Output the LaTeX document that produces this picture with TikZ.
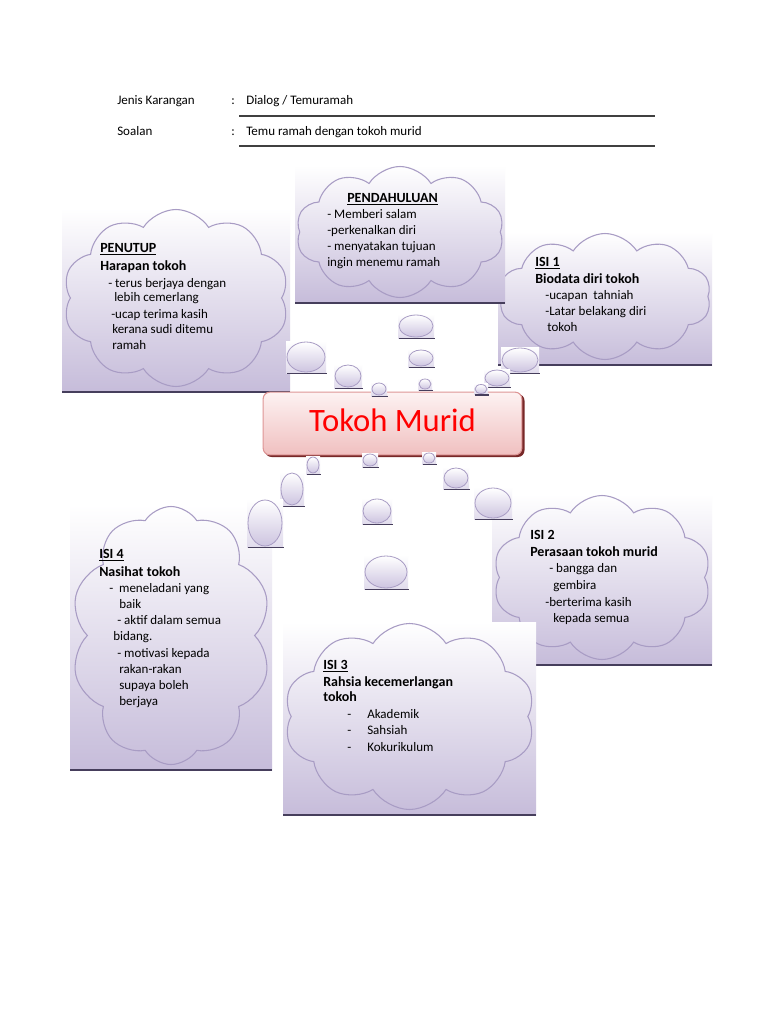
\documentclass[tikz,border=0pt]{standalone}
\usepackage{fontspec}
\setmainfont{Carlito}
\usetikzlibrary{shapes.geometric,shapes.symbols}
\definecolor{lav}{RGB}{198,188,218}
\definecolor{lavline}{RGB}{168,156,196}
\definecolor{shline}{RGB}{70,62,92}
\definecolor{bublav}{RGB}{205,196,224}
\definecolor{pinktop}{RGB}{253,242,242}
\definecolor{pinkbot}{RGB}{240,192,192}
\definecolor{pinkline}{RGB}{222,150,150}
\definecolor{darkred}{RGB}{120,40,40}
\tikzset{
 cloudo/.style={cloud, cloud puffs=10, cloud puff arc=115, cloud ignores aspect, draw=lavline, line width=0.8pt, inner sep=0pt},
 bub/.style={ellipse, draw=lavline, line width=0.6pt, top color=white, bottom color=bublav, inner sep=0pt},
 txt/.style={anchor=base west, inner sep=0pt, font=\fontsize{9.75}{12}\selectfont},
 hd/.style={anchor=base west, inner sep=0pt, font=\fontsize{10.5}{12}\selectfont\bfseries},
 shl/.style={draw=shline, line width=1.2pt},
 rulel/.style={draw=black!75, line width=1pt},
}
\newcommand\cbox[5]{%
 \shade[top color=white, bottom color=lav] (#2,#3) rectangle (#4,#5);
 \draw[shl] (#2,#5) -- (#4,#5);
 \node[cloudo, minimum width={(#4-#2-2)*0.75pt}, minimum height={(#5-#3-7)*0.75pt}] (#1) at ({(#2+#4)/2},{(#3+#5)/2-2}) {};
}
\newcommand\tbub[5]{%
 \shade[top color=white, bottom color=bublav!60] ({#2-#4-1},{#3-#5-1}) rectangle ({#2+#4+1},{#3+#5+1});
 \draw[shl, line width=1pt] ({#2-#4},{#3+#5+1.5}) -- ({#2+#4+1.5},{#3+#5+1.5});
 \node[bub, minimum width={#4*1.5pt}, minimum height={#5*1.5pt}] (#1) at (#2,#3) {};
}
\begin{document}
\begin{tikzpicture}[x=0.75pt,y=-0.75pt]
\useasboundingbox (0,0) rectangle (768,1024);
\fill[white] (0,0) rectangle (768,1024);
% header
\node[txt] (hj) at (117,104) {Jenis Karangan};
\node[txt] (hc1) at (231,104) {:};
\node[txt] (hv1) at (246,104) {Dialog / Temuramah};
\node[txt] (hs) at (117,135) {Soalan};
\node[txt] (hc2) at (231,135) {:};
\node[txt] (hv2) at (246,135) {Temu ramah dengan tokoh murid};
\coordinate (r1a) at (239,116); \coordinate (r1b) at (655,116);
\coordinate (r2a) at (239,146); \coordinate (r2b) at (655,146);
\draw[rulel] (r1a) -- (r1b);
\draw[rulel] (r2a) -- (r2b);
% cloud boxes
\cbox{isi1}{498}{232}{712}{365}
\cbox{pend}{295}{165}{505}{303}
\cbox{penutup}{62}{208}{290}{392}
\cbox{isi2}{492}{494}{712}{665}
\cbox{isi3}{283}{622}{536}{815}
\cbox{isi4}{70}{505}{272}{770}
% central box
\fill[darkred, rounded corners=5pt] (265,394) rectangle (524.5,457);
\node[rounded corners=5pt, draw=pinkline, line width=0.8pt, top color=pinktop, bottom color=pinkbot, minimum width=194pt, minimum height=47pt, inner sep=0pt] (tm) at (392.5,423.5) {};
\node[inner sep=0pt, text=red, font=\fontsize{24.5}{28}\selectfont] (tmt) at (392.5,420) {Tokoh Murid};
% bubbles
\tbub{b1}{416}{326}{17}{11}
\tbub{b2}{421}{358}{12}{8}
\tbub{b3}{425}{384}{6}{5}
\tbub{b4}{306}{357}{19}{15}
\tbub{b5}{348}{376}{13}{11}
\tbub{b6}{379}{389}{7}{6}
\tbub{b7}{520}{360}{18}{12}
\tbub{b8}{497}{378}{12}{8}
\tbub{b9}{481}{389}{6}{4.5}
\tbub{b10}{313}{465}{6}{8}
\tbub{b11}{370}{460}{7}{6}
\tbub{b12}{429}{458}{6}{5}
\tbub{b13}{292}{489}{11}{16}
\tbub{b14}{456}{478}{12}{10}
\tbub{b15}{265}{523}{17}{23}
\tbub{b16}{377}{511}{14}{12}
\tbub{b17}{493}{503}{18}{15}
\tbub{b18}{386}{572}{21}{16}
% PENUTUP text
\node[hd] (p0) at (100,252) {\underline{PENUTUP}};
\node[hd] (p1) at (100,270) {Harapan tokoh};
\node[txt] (p2) at (108,287) {- terus berjaya dengan};
\node[txt] (p3) at (114,301) {lebih cemerlang};
\node[txt] (p4) at (111,318) {-ucap terima kasih};
\node[txt] (p5) at (112,333) {kerana sudi ditemu};
\node[txt] (p6) at (112,349) {ramah};
% PENDAHULUAN text
\node[hd] (d0) at (347,202) {\underline{PENDAHULUAN}};
\node[txt] (d1) at (327,218) {- Memberi salam};
\node[txt] (d2) at (327,234) {-perkenalkan diri};
\node[txt] (d3) at (327,250) {- menyatakan tujuan};
\node[txt] (d4) at (327,266) {ingin menemu ramah};
% ISI 1 text
\node[hd] (a0) at (535,266) {\underline{ISI 1}};
\node[hd] (a1) at (535,283) {Biodata diri tokoh};
\node[txt] (a2) at (545,299) {-ucapan\ \ tahniah};
\node[txt] (a3) at (545,315) {-Latar belakang diri};
\node[txt] (a4) at (547,331) {tokoh};
% ISI 4 text
\node[hd] (c0) at (99,558) {\underline{ISI 4}};
\node[hd] (c1) at (99,576) {Nasihat tokoh};
\node[txt] (c2) at (109,592) {-\ \ meneladani yang};
\node[txt] (c3) at (119,608) {baik};
\node[txt] (c4) at (117,624) {- aktif dalam semua};
\node[txt] (c5) at (113,640) {bidang.};
\node[txt] (c6) at (117,657) {- motivasi kepada};
\node[txt] (c7) at (119,673) {rakan-rakan};
\node[txt] (c8) at (119,689) {supaya boleh};
\node[txt] (c9) at (119,705) {berjaya};
% ISI 2 text
\node[hd] (e0) at (530,539) {ISI 2};
\node[hd] (e1) at (530,556) {Perasaan tokoh murid};
\node[txt] (e2) at (549,572) {- bangga dan};
\node[txt] (e3) at (553,589) {gembira};
\node[txt] (e4) at (545,606) {-berterima kasih};
\node[txt] (e5) at (553,622) {kepada semua};
% ISI 3 text
\node[hd] (f0) at (323,669) {\underline{ISI 3}};
\node[hd] (f1) at (323,686) {Rahsia kecemerlangan};
\node[hd] (f2) at (323,701) {tokoh};
\node[txt] (f3) at (347,718) {-};
\node[txt] (f4) at (367,718) {Akademik};
\node[txt] (f5) at (347,734) {-};
\node[txt] (f6) at (367,734) {Sahsiah};
\node[txt] (f7) at (347,751) {-};
\node[txt] (f8) at (367,751) {Kokurikulum};
\end{tikzpicture}
\end{document}
